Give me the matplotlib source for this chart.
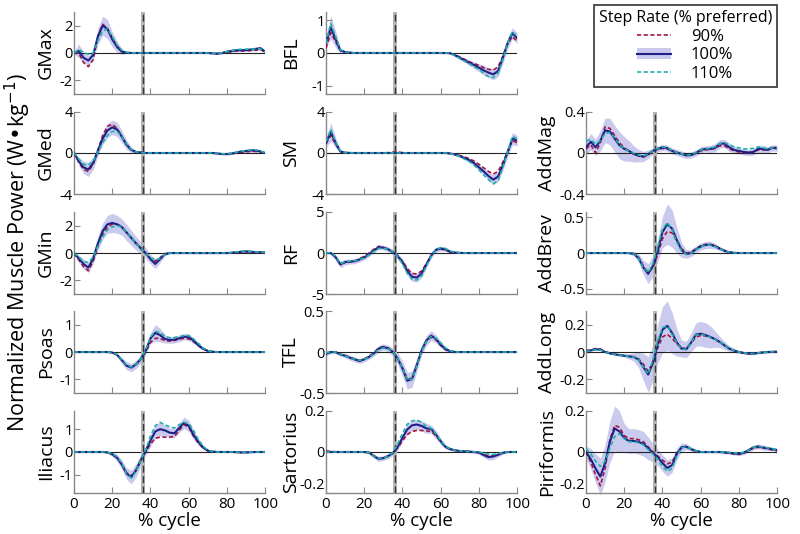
import numpy as np
import matplotlib.pyplot as plt
from matplotlib.lines import Line2D
from matplotlib.patches import Patch

plt.rcParams['font.family'] = ['Open Sans', 'DejaVu Sans']
plt.rcParams['axes.unicode_minus'] = False

pct = np.arange(0, 101, 2.5)  # % gait cycle, 41 samples
toe_off = 36.2  # % cycle

# ---------------- column 1 ----------------
gmax_90 = [0, 0.0, -0.7, -1.0, -0.5, 1.2, 2.1, 1.8, 1.1, 0.5,
           0.12, 0.03, 0, 0, 0, 0, 0, 0, 0, 0,
           0, 0, 0, 0, 0, 0, 0, 0, 0, -0.03,
           -0.05, -0.02, 0.05, 0.1, 0.15, 0.15, 0.15, 0.18, 0.2, 0.25,
           0.05]
gmax_100 = [0, 0.15, -0.35, -0.55, -0.15, 1.2, 2.0, 1.75, 1.0, 0.45,
            0.1, 0.02, 0, 0, 0, 0, 0, 0, 0, 0,
            0, 0, 0, 0, 0, 0, 0, 0, 0, -0.03,
            -0.05, 0.0, 0.1, 0.15, 0.2, 0.2, 0.22, 0.25, 0.3, 0.35,
            0.1]
gmax_110 = [0, 0.25, 0.05, -0.1, 0.0, 0.9, 1.6, 1.75, 1.2, 0.6,
            0.2, 0.05, 0, 0, 0, 0, 0, 0, 0, 0,
            0, 0, 0, 0, 0, 0, 0, 0, 0, -0.02,
            -0.04, 0.02, 0.1, 0.18, 0.25, 0.27, 0.28, 0.28, 0.3, 0.3,
            0.1]
gmax_sd = [0.1, 0.5, 0.4, 0.35, 0.35, 0.6, 0.7, 0.7, 0.55, 0.4,
           0.2, 0.05, 0.02, 0.02, 0.02, 0.02, 0.02, 0.02, 0.02, 0.02,
           0.02, 0.02, 0.02, 0.02, 0.02, 0.02, 0.02, 0.02, 0.02, 0.02,
           0.04, 0.06, 0.1, 0.1, 0.1, 0.1, 0.1, 0.1, 0.12, 0.12,
           0.05]

gmed_90 = [0, -0.9, -1.6, -1.8, -1.1, 0.3, 1.7, 2.6, 2.8, 2.4,
           1.6, 0.8, 0.3, 0.1, 0.05, 0, 0, 0, 0, 0,
           0, 0, 0, 0, 0, 0, 0, 0, 0, 0,
           -0.05, -0.1, -0.12, -0.08, 0.0, 0.08, 0.12, 0.15, 0.15, 0.1,
           0]
gmed_100 = [0, -0.8, -1.4, -1.6, -1.0, 0.2, 1.4, 2.2, 2.5, 2.3,
            1.6, 0.8, 0.3, 0.1, 0.05, 0, 0, 0, 0, 0,
            0, 0, 0, 0, 0, 0, 0, 0, 0, 0,
            -0.05, -0.1, -0.1, -0.05, 0.05, 0.15, 0.2, 0.25, 0.25, 0.15,
            0]
gmed_110 = [0, -0.6, -1.1, -1.2, -0.8, 0.1, 1.0, 1.7, 2.1, 2.1,
            1.6, 0.9, 0.35, 0.1, 0.05, 0, 0, 0, 0, 0,
            0, 0, 0, 0, 0, 0, 0, 0, 0, 0,
            -0.04, -0.08, -0.08, -0.03, 0.08, 0.18, 0.22, 0.28, 0.3, 0.2,
            0]
gmed_sd = [0.05, 0.4, 0.6, 0.7, 0.6, 0.5, 0.6, 0.7, 0.7, 0.7,
           0.6, 0.45, 0.25, 0.1, 0.05, 0.05, 0.05, 0.05, 0.05, 0.05,
           0.05, 0.05, 0.05, 0.05, 0.05, 0.05, 0.05, 0.05, 0.05, 0.05,
           0.08, 0.1, 0.1, 0.1, 0.1, 0.12, 0.15, 0.15, 0.15, 0.12,
           0.05]

gmin_90 = [0, -0.5, -1.0, -1.3, -0.6, 0.5, 1.4, 1.9, 2.1, 2.1,
           1.9, 1.5, 1.1, 0.7, 0.3, -0.05, -0.4, -0.6, -0.35, -0.05,
           0, 0, 0, 0, 0, 0, 0, 0, 0, 0,
           0, 0, 0, 0.02, 0.04, 0.08, 0.1, 0.08, 0.04, 0.03,
           0.03]
gmin_100 = [0, -0.4, -0.8, -1.07, -0.4, 0.7, 1.6, 2.1, 2.2, 2.1,
            1.9, 1.5, 1.1, 0.7, 0.35, 0.0, -0.45, -0.8, -0.45, -0.1,
            0, 0, 0, 0, 0, 0, 0, 0, 0, 0,
            0, 0, 0, 0.02, 0.05, 0.1, 0.12, 0.1, 0.05, 0.05,
            0.05]
gmin_110 = [0, -0.3, -0.6, -0.7, -0.3, 0.5, 1.2, 1.7, 1.9, 2.0,
            1.9, 1.5, 1.1, 0.7, 0.35, 0.0, -0.35, -0.5, -0.4, -0.1,
            0, 0, 0, 0, 0, 0, 0, 0, 0, 0,
            0, 0, 0, 0.03, 0.07, 0.12, 0.15, 0.12, 0.07, 0.05,
            0.05]
gmin_sd = [0.05, 0.25, 0.35, 0.35, 0.4, 0.5, 0.6, 0.65, 0.7, 0.65,
           0.6, 0.6, 0.55, 0.5, 0.45, 0.4, 0.35, 0.35, 0.25, 0.1,
           0.05, 0.05, 0.05, 0.05, 0.05, 0.05, 0.05, 0.05, 0.05, 0.05,
           0.05, 0.05, 0.05, 0.05, 0.05, 0.05, 0.05, 0.05, 0.05, 0.05,
           0.05]

psoas_90 = [0, 0, 0, 0, 0, 0, 0, 0, -0.02, -0.1,
            -0.3, -0.5, -0.55, -0.45, -0.25, 0.0, 0.35, 0.5, 0.5, 0.42,
            0.4, 0.42, 0.47, 0.5, 0.48, 0.38, 0.25, 0.12, 0.04, 0.01,
            0, 0, 0, 0, 0, 0, 0, 0, 0, 0,
            0]
psoas_100 = [0, 0, 0, 0, 0, 0, 0, 0, -0.02, -0.1,
             -0.3, -0.5, -0.57, -0.45, -0.25, 0.05, 0.5, 0.7, 0.62, 0.48,
             0.44, 0.45, 0.5, 0.56, 0.55, 0.42, 0.25, 0.12, 0.04, 0.01,
             0, 0, 0, 0, 0, 0, 0, 0, 0, 0,
             0]
psoas_110 = [0, 0, 0, 0, 0, 0, 0, 0, -0.02, -0.09,
             -0.28, -0.48, -0.55, -0.45, -0.25, 0.08, 0.55, 0.75, 0.72, 0.58,
             0.52, 0.53, 0.56, 0.6, 0.6, 0.48, 0.32, 0.15, 0.05, 0.01,
             0, 0, 0, 0, 0, 0, 0, 0, 0, 0,
             0]
psoas_sd = [0.01, 0.01, 0.01, 0.01, 0.01, 0.01, 0.01, 0.01, 0.02, 0.05,
            0.1, 0.15, 0.15, 0.15, 0.15, 0.15, 0.2, 0.3, 0.25, 0.15,
            0.12, 0.12, 0.12, 0.12, 0.12, 0.1, 0.08, 0.05, 0.03, 0.01,
            0.01, 0.01, 0.01, 0.01, 0.01, 0.01, 0.01, 0.01, 0.01, 0.01,
            0.01]

iliacus_90 = [0, 0, 0, 0, 0, 0, 0, -0.02, -0.1, -0.25,
              -0.55, -0.9, -1.05, -0.8, -0.35, 0.0, 0.35, 0.6, 0.65, 0.65,
              0.65, 0.68, 0.95, 1.2, 1.1, 0.7, 0.4, 0.18, 0.05, 0.01,
              0, 0, 0, 0, -0.01, -0.02, -0.02, -0.01, 0, 0,
              0]
iliacus_100 = [0, 0, 0, 0, 0, 0, 0, -0.02, -0.1, -0.25,
               -0.55, -0.95, -1.1, -0.8, -0.35, 0.05, 0.5, 0.9, 1.0, 0.95,
               0.85, 0.82, 1.05, 1.28, 1.15, 0.75, 0.45, 0.2, 0.06, 0.02,
               0, 0, 0, 0, -0.01, -0.02, -0.02, -0.01, 0, 0,
               0]
iliacus_110 = [0, 0, 0, 0, 0, 0, 0, -0.02, -0.08, -0.2,
               -0.5, -0.95, -1.15, -0.85, -0.35, 0.1, 0.7, 1.15, 1.3, 1.2,
               1.1, 1.05, 1.2, 1.3, 1.25, 0.95, 0.55, 0.25, 0.08, 0.02,
               0, 0, 0, 0, -0.01, -0.02, -0.02, -0.01, 0, 0,
               0]
iliacus_sd = [0.01, 0.01, 0.01, 0.01, 0.01, 0.01, 0.01, 0.03, 0.1, 0.15,
              0.2, 0.25, 0.3, 0.3, 0.25, 0.2, 0.25, 0.3, 0.3, 0.25,
              0.2, 0.2, 0.2, 0.25, 0.25, 0.2, 0.15, 0.08, 0.04, 0.02,
              0.01, 0.01, 0.01, 0.01, 0.01, 0.01, 0.01, 0.01, 0.01, 0.01,
              0.01]

# ---------------- column 2 ----------------
bfl_90 = [0.15, 0.62, 0.35, 0.08, 0.02, 0.01, 0, 0, 0, 0,
          0, 0, 0, 0, 0, 0, 0, 0, 0, 0,
          0, 0, 0, 0, 0, 0, -0.01, -0.06, -0.12, -0.2,
          -0.27, -0.33, -0.38, -0.45, -0.5, -0.52, -0.42, -0.1, 0.28, 0.5,
          0.35]
bfl_100 = [0.3, 0.78, 0.42, 0.08, 0.03, 0.01, 0, 0, 0, 0,
           0, 0, 0, 0, 0, 0, 0, 0, 0, 0,
           0, 0, 0, 0, 0, 0, -0.01, -0.07, -0.15, -0.22,
           -0.3, -0.37, -0.45, -0.53, -0.6, -0.65, -0.55, -0.15, 0.3, 0.6,
           0.45]
bfl_110 = [0.3, 0.9, 0.5, 0.1, 0.03, 0.01, 0, 0, 0, 0,
           0, 0, 0, 0, 0, 0, 0, 0, 0, 0,
           0, 0, 0, 0, 0, 0, -0.01, -0.08, -0.17, -0.25,
           -0.33, -0.42, -0.5, -0.62, -0.72, -0.75, -0.62, -0.2, 0.3, 0.65,
           0.5]
bfl_sd = [0.15, 0.35, 0.25, 0.08, 0.03, 0.01, 0.01, 0.01, 0.01, 0.01,
          0.01, 0.01, 0.01, 0.01, 0.01, 0.01, 0.01, 0.01, 0.01, 0.01,
          0.01, 0.01, 0.01, 0.01, 0.01, 0.01, 0.02, 0.04, 0.05, 0.07,
          0.08, 0.1, 0.12, 0.15, 0.15, 0.17, 0.17, 0.17, 0.17, 0.17,
          0.15]

sm_90 = [0.9, 1.7, 0.9, 0.15, 0.03, 0.01, 0, 0, 0, 0,
         0, 0, 0, 0.03, 0.08, 0.1, 0.03, 0, 0, 0,
         0, 0, 0, 0, 0, 0, -0.05, -0.12, -0.25, -0.4,
         -0.55, -0.8, -1.1, -1.45, -1.8, -2.05, -1.8, -0.9, 0.1, 1.2,
         1.0]
sm_100 = [1.0, 2.05, 1.0, 0.15, 0.03, 0.01, 0, 0, 0, 0,
          0, 0, 0, 0, 0, 0, 0, 0, 0, 0,
          0, 0, 0, 0, 0, 0, -0.05, -0.15, -0.3, -0.5,
          -0.7, -1.0, -1.4, -1.8, -2.25, -2.6, -2.3, -1.2, 0.1, 1.4,
          1.2]
sm_110 = [1.1, 2.3, 1.1, 0.2, 0.03, 0.01, 0, 0, 0, 0,
          0, 0, 0, 0, 0, 0, 0, 0, 0, 0,
          0, 0, 0, 0, 0, 0, -0.06, -0.18, -0.35, -0.6,
          -0.85, -1.2, -1.65, -2.15, -2.6, -3.0, -2.7, -1.4, 0.1, 1.6,
          1.4]
sm_sd = [0.4, 0.9, 0.5, 0.1, 0.03, 0.02, 0.02, 0.02, 0.02, 0.02,
         0.02, 0.02, 0.02, 0.02, 0.02, 0.02, 0.02, 0.02, 0.02, 0.02,
         0.02, 0.02, 0.02, 0.02, 0.02, 0.02, 0.05, 0.08, 0.1, 0.15,
         0.2, 0.25, 0.3, 0.35, 0.4, 0.5, 0.5, 0.5, 0.5, 0.6,
         0.5]

rf_90 = [0, 0, -0.5, -1.3, -1.2, -1.1, -0.95, -0.7, -0.4, 0.0,
         0.45, 0.8, 0.7, 0.45, 0.1, -0.35, -1.0, -1.9, -2.5, -2.55,
         -2.2, -1.3, -0.3, 0.35, 0.5, 0.35, 0.12, 0.04, 0.01, 0,
         0, 0, 0, 0, 0, 0, 0, 0, 0, 0,
         0]
rf_100 = [0, 0, -0.5, -1.4, -1.1, -1.05, -1.0, -0.8, -0.55, -0.15,
          0.3, 0.7, 0.65, 0.45, 0.1, -0.4, -1.1, -2.2, -2.9, -3.0,
          -2.5, -1.4, -0.3, 0.4, 0.55, 0.45, 0.15, 0.05, 0.02, 0,
          0, 0, 0, 0, 0, 0, 0, 0, 0, 0,
          0]
rf_110 = [0, 0.05, -0.4, -1.3, -1.1, -1.0, -0.95, -0.8, -0.6, -0.25,
          0.2, 0.55, 0.6, 0.45, 0.1, -0.45, -1.3, -2.5, -3.2, -3.3,
          -2.8, -1.6, -0.4, 0.4, 0.65, 0.55, 0.25, 0.08, 0.02, 0,
          0, 0, 0, 0, 0, 0, 0, 0, 0, 0,
          0]
rf_sd = [0.1, 0.15, 0.3, 0.4, 0.35, 0.3, 0.3, 0.3, 0.3, 0.3,
         0.3, 0.3, 0.3, 0.3, 0.3, 0.35, 0.4, 0.5, 0.55, 0.55,
         0.5, 0.4, 0.35, 0.3, 0.3, 0.25, 0.15, 0.08, 0.04, 0.02,
         0.01, 0.01, 0.01, 0.01, 0.01, 0.01, 0.01, 0.01, 0.01, 0.01,
         0.01]

tfl_90 = [-0.02, 0.0, 0.0, -0.03, -0.04, -0.065, -0.085, -0.1, -0.085, -0.05,
          -0.01, 0.05, 0.065, 0.05, 0.0, -0.08, -0.19, -0.33, -0.32, -0.16,
          0.02, 0.13, 0.18, 0.15, 0.08, 0.03, 0.01, 0, 0, 0,
          0, 0, 0, 0, 0, 0, 0, 0, 0, 0,
          0]
tfl_100 = [-0.02, 0.0, 0.0, -0.03, -0.045, -0.07, -0.09, -0.11, -0.09, -0.06,
           -0.02, 0.04, 0.06, 0.045, 0.0, -0.08, -0.2, -0.35, -0.33, -0.16,
           0.02, 0.14, 0.2, 0.16, 0.09, 0.035, 0.01, 0, 0, 0,
           0, 0, 0, 0, 0, 0, 0, 0, 0, 0,
           0]
tfl_110 = [-0.01, 0.0, 0.0, -0.03, -0.045, -0.07, -0.09, -0.1, -0.09, -0.06,
           -0.025, 0.03, 0.05, 0.04, 0.0, -0.08, -0.2, -0.34, -0.33, -0.17,
           0.01, 0.13, 0.19, 0.17, 0.11, 0.05, 0.015, 0, 0, 0,
           0, 0, 0, 0, 0, 0, 0, 0, 0, 0,
           0]
tfl_sd = [0.03, 0.02, 0.02, 0.02, 0.025, 0.03, 0.03, 0.03, 0.03, 0.03,
          0.03, 0.04, 0.04, 0.04, 0.05, 0.07, 0.09, 0.1, 0.1, 0.08,
          0.06, 0.06, 0.06, 0.05, 0.04, 0.03, 0.02, 0.01, 0.005, 0.005,
          0.005, 0.005, 0.005, 0.005, 0.005, 0.005, 0.005, 0.005, 0.005, 0.005,
          0.005]

sart_90 = [0.005, 0.003, 0.001, 0, 0, 0, 0, 0, 0, -0.003,
           -0.018, -0.032, -0.03, -0.02, -0.005, 0.02, 0.055, 0.085, 0.1, 0.105,
           0.105, 0.103, 0.1, 0.08, 0.05, 0.025, 0.014, 0.008, 0.005, 0.003,
           0.002, 0, -0.003, -0.012, -0.02, -0.018, -0.012, -0.004, 0, 0,
           0]
sart_100 = [0, 0, 0, 0, 0, 0, 0, 0, 0, -0.003,
            -0.02, -0.034, -0.03, -0.02, -0.005, 0.025, 0.07, 0.11, 0.13, 0.134,
            0.127, 0.115, 0.112, 0.085, 0.052, 0.025, 0.014, 0.008, 0.005, 0.003,
            0.002, 0, -0.003, -0.015, -0.025, -0.022, -0.014, -0.004, 0, 0,
            0]
sart_110 = [0, 0, 0, 0, 0, 0, 0, 0, 0, -0.003,
            -0.02, -0.033, -0.03, -0.02, -0.002, 0.04, 0.09, 0.135, 0.152, 0.155,
            0.145, 0.125, 0.115, 0.088, 0.055, 0.028, 0.015, 0.008, 0.005, 0.003,
            0.002, 0.001, 0.0, -0.005, -0.01, -0.012, -0.008, -0.003, 0, 0,
            0]
sart_sd = [0.003, 0.003, 0.003, 0.003, 0.003, 0.003, 0.003, 0.003, 0.003, 0.005,
           0.01, 0.012, 0.012, 0.012, 0.012, 0.015, 0.02, 0.025, 0.025, 0.025,
           0.025, 0.025, 0.02, 0.02, 0.015, 0.01, 0.008, 0.006, 0.005, 0.005,
           0.005, 0.006, 0.008, 0.012, 0.015, 0.015, 0.01, 0.006, 0.004, 0.003,
           0.003]

# ---------------- column 3 ----------------
addmag_90 = [0.04, 0.08, 0.0, 0.1, 0.255, 0.24, 0.17, 0.1, 0.05, 0.02,
             -0.01, -0.03, -0.04, -0.02, 0.015, 0.035, 0.045, 0.04, 0.02, 0.005,
             -0.01, -0.02, -0.02, 0.0, 0.02, 0.03, 0.035, 0.045, 0.07, 0.07,
             0.04, 0.02, 0.01, 0.005, 0.0, 0.01, 0.03, 0.03, 0.03, 0.06,
             0.05]
addmag_100 = [0.055, 0.11, 0.055, 0.12, 0.22, 0.21, 0.14, 0.075, 0.04, 0.02,
              -0.01, -0.025, -0.035, -0.012, 0.02, 0.04, 0.055, 0.047, 0.02, 0.005,
              -0.01, -0.024, -0.02, 0.0, 0.03, 0.04, 0.04, 0.05, 0.09, 0.092,
              0.055, 0.03, 0.02, 0.01, 0.005, 0.01, 0.04, 0.04, 0.03, 0.05,
              0.045]
addmag_110 = [0.12, 0.13, 0.09, 0.12, 0.19, 0.2, 0.15, 0.08, 0.04, 0.02,
              0.0, -0.02, -0.03, -0.01, 0.02, 0.045, 0.06, 0.05, 0.025, 0.005,
              -0.01, -0.02, -0.015, 0.005, 0.03, 0.04, 0.045, 0.06, 0.09, 0.1,
              0.08, 0.06, 0.05, 0.04, 0.04, 0.045, 0.06, 0.05, 0.04, 0.05,
              0.045]
addmag_sd = [0.07, 0.08, 0.08, 0.1, 0.12, 0.13, 0.13, 0.13, 0.12, 0.1,
             0.08, 0.06, 0.05, 0.04, 0.03, 0.03, 0.03, 0.03, 0.03, 0.03,
             0.03, 0.03, 0.03, 0.03, 0.03, 0.03, 0.035, 0.04, 0.04, 0.04,
             0.04, 0.035, 0.03, 0.03, 0.03, 0.03, 0.035, 0.035, 0.03, 0.03,
             0.03]

addbrev_90 = [0, 0, 0, 0, 0, 0, 0, 0, 0, -0.002,
              -0.01, -0.06, -0.18, -0.27, -0.2, -0.02, 0.2, 0.3, 0.28, 0.17,
              0.06, 0.0, 0.01, 0.06, 0.1, 0.12, 0.12, 0.1, 0.065, 0.035,
              0.012, 0.003, 0, 0, 0, 0, 0, 0, 0, 0,
              0]
addbrev_100 = [0, 0, 0, 0, 0, 0, 0, 0, 0, -0.002,
               -0.01, -0.07, -0.2, -0.29, -0.18, 0.03, 0.29, 0.4, 0.34, 0.18,
               0.04, -0.015, 0.0, 0.05, 0.09, 0.112, 0.115, 0.095, 0.06, 0.03,
               0.01, 0.003, 0, 0, 0, 0, 0, 0, 0, 0,
               0]
addbrev_110 = [0, 0, 0, 0, 0, 0, 0, 0, 0, -0.002,
               -0.01, -0.07, -0.2, -0.27, -0.15, 0.08, 0.33, 0.42, 0.33, 0.15,
               0.03, -0.02, -0.005, 0.045, 0.085, 0.11, 0.11, 0.09, 0.055, 0.028,
               0.01, 0.003, 0, 0, 0, 0, 0, 0, 0, 0,
               0]
addbrev_sd = [0.005, 0.005, 0.005, 0.005, 0.005, 0.005, 0.005, 0.005, 0.005, 0.01,
              0.03, 0.06, 0.1, 0.14, 0.14, 0.15, 0.22, 0.28, 0.26, 0.18,
              0.1, 0.06, 0.05, 0.05, 0.05, 0.05, 0.05, 0.04, 0.03, 0.02,
              0.01, 0.005, 0.005, 0.005, 0.005, 0.005, 0.005, 0.005, 0.005, 0.005,
              0.005]

addlong_90 = [0.01, 0.015, 0.025, 0.022, 0.003, -0.008, -0.015, -0.02, -0.025, -0.03,
              -0.035, -0.05, -0.09, -0.14, -0.08, 0.03, 0.11, 0.13, 0.1, 0.06,
              0.03, 0.025, 0.065, 0.11, 0.12, 0.118, 0.108, 0.093, 0.072, 0.047,
              0.024, 0.01, 0.0, -0.007, -0.011, -0.011, -0.007, -0.003, 0.0, 0.002,
              0.002]
addlong_100 = [0.007, 0.012, 0.02, 0.018, 0.0, -0.01, -0.017, -0.022, -0.027, -0.032,
               -0.037, -0.055, -0.11, -0.165, -0.08, 0.06, 0.163, 0.192, 0.14, 0.07,
               0.024, 0.02, 0.07, 0.128, 0.134, 0.124, 0.11, 0.095, 0.073, 0.048,
               0.024, 0.01, 0.0, -0.007, -0.012, -0.012, -0.007, -0.003, 0.0, 0.002,
               0.002]
addlong_110 = [0.005, 0.01, 0.018, 0.015, 0.0, -0.01, -0.017, -0.022, -0.027, -0.032,
               -0.037, -0.055, -0.11, -0.16, -0.06, 0.08, 0.18, 0.19, 0.13, 0.065,
               0.02, 0.02, 0.07, 0.125, 0.13, 0.12, 0.108, 0.094, 0.072, 0.047,
               0.024, 0.01, 0.0, -0.006, -0.011, -0.011, -0.007, -0.003, 0.0, 0.002,
               0.002]
addlong_sd = [0.005, 0.005, 0.006, 0.006, 0.006, 0.006, 0.008, 0.01, 0.01, 0.02,
              0.03, 0.06, 0.1, 0.13, 0.13, 0.14, 0.17, 0.18, 0.15, 0.1,
              0.06, 0.06, 0.07, 0.085, 0.09, 0.09, 0.08, 0.06, 0.04, 0.03,
              0.02, 0.015, 0.01, 0.008, 0.008, 0.008, 0.008, 0.008, 0.008, 0.008,
              0.008]

pirif_90 = [0.0, -0.05, -0.11, -0.165, -0.08, 0.06, 0.13, 0.12, 0.08, 0.065,
            0.065, 0.06, 0.05, 0.025, 0.0, -0.02, -0.04, -0.058, -0.05, -0.005,
            0.022, 0.025, 0.013, 0.004, 0.0, 0.0, 0.0, 0.0, 0.0, -0.003,
            -0.006, -0.01, -0.012, -0.006, 0.007, 0.018, 0.023, 0.02, 0.015, 0.01,
            0.005]
pirif_100 = [0.0, -0.035, -0.08, -0.12, -0.054, 0.05, 0.115, 0.1, 0.068, 0.053,
             0.054, 0.049, 0.04, 0.018, -0.004, -0.026, -0.054, -0.078, -0.065, -0.01,
             0.023, 0.026, 0.014, 0.005, 0.0, 0.0, 0.0, 0.0, 0.0, -0.002,
             -0.004, -0.007, -0.009, -0.004, 0.009, 0.022, 0.027, 0.022, 0.018, 0.014,
             0.009]
pirif_110 = [0.015, -0.01, -0.045, -0.07, -0.045, 0.02, 0.075, 0.09, 0.065, 0.05,
             0.05, 0.045, 0.035, 0.012, -0.01, -0.035, -0.07, -0.095, -0.08, -0.02,
             0.02, 0.025, 0.015, 0.005, 0.0, 0.0, 0.0, 0.0, 0.0, -0.001,
             -0.003, -0.004, -0.005, -0.002, 0.01, 0.022, 0.028, 0.024, 0.02, 0.016,
             0.012]
pirif_sd = [0.03, 0.05, 0.07, 0.09, 0.09, 0.1, 0.11, 0.1, 0.07, 0.06,
            0.06, 0.06, 0.06, 0.055, 0.045, 0.04, 0.04, 0.04, 0.035, 0.03,
            0.02, 0.015, 0.01, 0.008, 0.005, 0.005, 0.005, 0.005, 0.005, 0.006,
            0.007, 0.008, 0.008, 0.009, 0.01, 0.012, 0.012, 0.012, 0.01, 0.008,
            0.006]

# panel layout: (row, col, name, 90%, 100%, 110%, sd, ylim, yticks, ticklabels)
panels = [
    (0, 0, "GMax", gmax_90, gmax_100, gmax_110, gmax_sd, 3, [-2, 0, 2], ["-2", "0", "2"]),
    (1, 0, "GMed", gmed_90, gmed_100, gmed_110, gmed_sd, 4, [-4, 0, 4], ["-4", "0", "4"]),
    (2, 0, "GMin", gmin_90, gmin_100, gmin_110, gmin_sd, 3, [-2, 0, 2], ["-2", "0", "2"]),
    (3, 0, "Psoas", psoas_90, psoas_100, psoas_110, psoas_sd, 1.5, [-1, 0, 1], ["-1", "0", "1"]),
    (4, 0, "Iliacus", iliacus_90, iliacus_100, iliacus_110, iliacus_sd, 1.8, [-1, 0, 1], ["-1", "0", "1"]),
    (0, 1, "BFL", bfl_90, bfl_100, bfl_110, bfl_sd, 1.25, [-1, 0, 1], ["-1", "0", "1"]),
    (1, 1, "SM", sm_90, sm_100, sm_110, sm_sd, 4, [-4, 0, 4], ["-4", "0", "4"]),
    (2, 1, "RF", rf_90, rf_100, rf_110, rf_sd, 5, [-5, 0, 5], ["-5", "0", "5"]),
    (3, 1, "TFL", tfl_90, tfl_100, tfl_110, tfl_sd, 0.5, [-0.5, 0, 0.5], ["-0.5", "0", "0.5"]),
    (4, 1, "Sartorius", sart_90, sart_100, sart_110, sart_sd, 0.2, [-0.2, 0, 0.2], ["-0.2", "0", "0.2"]),
    (1, 2, "AddMag", addmag_90, addmag_100, addmag_110, addmag_sd, 0.4, [-0.4, 0, 0.4], ["-0.4", "0", "0.4"]),
    (2, 2, "AddBrev", addbrev_90, addbrev_100, addbrev_110, addbrev_sd, 0.57, [-0.5, 0, 0.5], ["-0.5", "0", "0.5"]),
    (3, 2, "AddLong", addlong_90, addlong_100, addlong_110, addlong_sd, 0.3, [-0.2, 0, 0.2], ["-0.2", "0", "0.2"]),
    (4, 2, "Piriformis", pirif_90, pirif_100, pirif_110, pirif_sd, 0.2, [-0.2, 0, 0.2], ["-0.2", "0", "0.2"]),
]

c90 = "#a3163c"
c100 = "#1f1f8a"
c110 = "#1db3a3"
cband = "#cacaee"

col_left = [0.0925, 0.4075, 0.7325]
col_w = 0.239
row_bottom = [0.824, 0.6367, 0.4494, 0.264, 0.0768]
row_h = 0.1536
label_x = [-0.10, -0.135, -0.155]

fig = plt.figure(figsize=(8, 5.34), dpi=100)

for row, col, name, s90, s100, s110, sd, lim, yt, ytl in panels:
    ax = fig.add_axes([col_left[col], row_bottom[row], col_w, row_h])
    m = np.array(s100)
    e = np.array(sd)
    ax.fill_between(pct, m - e, m + e, color=cband, lw=0, zorder=1, clip_on=False)
    ax.axhline(0, color="#222222", lw=0.8, zorder=2)
    ax.axvspan(toe_off - 1.0, toe_off + 0.8, color="#b5b5b5", lw=0, zorder=2)
    ax.axvline(toe_off, color="#333333", lw=1.0, dashes=(5, 2.5), zorder=3)
    ax.plot(pct, s90, color=c90, lw=1.2, dashes=(2.5, 1.5), zorder=4)
    ax.plot(pct, s100, color=c100, lw=1.5, zorder=5)
    ax.plot(pct, s110, color=c110, lw=1.2, dashes=(2.5, 1.5), zorder=6)
    ax.set_xlim(0, 100)
    ax.set_ylim(-lim, lim)
    ax.set_xticks([0, 20, 40, 60, 80, 100])
    ax.set_yticks(yt)
    ax.set_yticklabels(ytl)
    for s in ["top", "right"]:
        ax.spines[s].set_visible(False)
    for s in ["left", "bottom"]:
        ax.spines[s].set_color("#888888")
        ax.spines[s].set_linewidth(1.0)
    ax.tick_params(direction="in", length=4, color="#888888", labelsize=11)
    ax.tick_params(axis="y", pad=1, labelsize=10.5)
    ax.tick_params(axis="x", pad=3)
    if row == 4:
        ax.set_xlabel("% cycle", fontsize=13.5)
        ax.xaxis.set_label_coords(0.5, -0.235)
        if yt[0] == -lim:
            # lowest label sits on the axis corner: lift it clear of the x labels
            ax.get_yticklabels()[0].set_verticalalignment("bottom")
    else:
        ax.tick_params(labelbottom=False)
    ax.set_ylabel(name, fontsize=14)
    ax.yaxis.set_label_coords(label_x[col], 0.5)

fig.text(0.022, 0.528, "Normalized Muscle Power (W\u2022kg$^{-1}$)", rotation=90,
         ha="center", va="center", fontsize=15.5)

handles = [Line2D([], [], color=c90, lw=1.2, dashes=(2.5, 1.5)),
           (Patch(color=cband, lw=0), Line2D([], [], color=c100, lw=1.5)),
           Line2D([], [], color=c110, lw=1.2, dashes=(2.5, 1.5))]
leg = fig.legend(handles, ["90%", "100%", "110%"], title="Step Rate (% preferred)",
                 loc="upper left", bbox_to_anchor=(0.742, 0.99), borderaxespad=0,
                 fontsize=12, title_fontsize=11.5, frameon=True, fancybox=False,
                 edgecolor="black", handlelength=2.0, handletextpad=1.2,
                 borderpad=0.3, labelspacing=0.15, alignment="center")
leg.get_frame().set_linewidth(1.2)

fig.savefig("out.png", dpi=100)
